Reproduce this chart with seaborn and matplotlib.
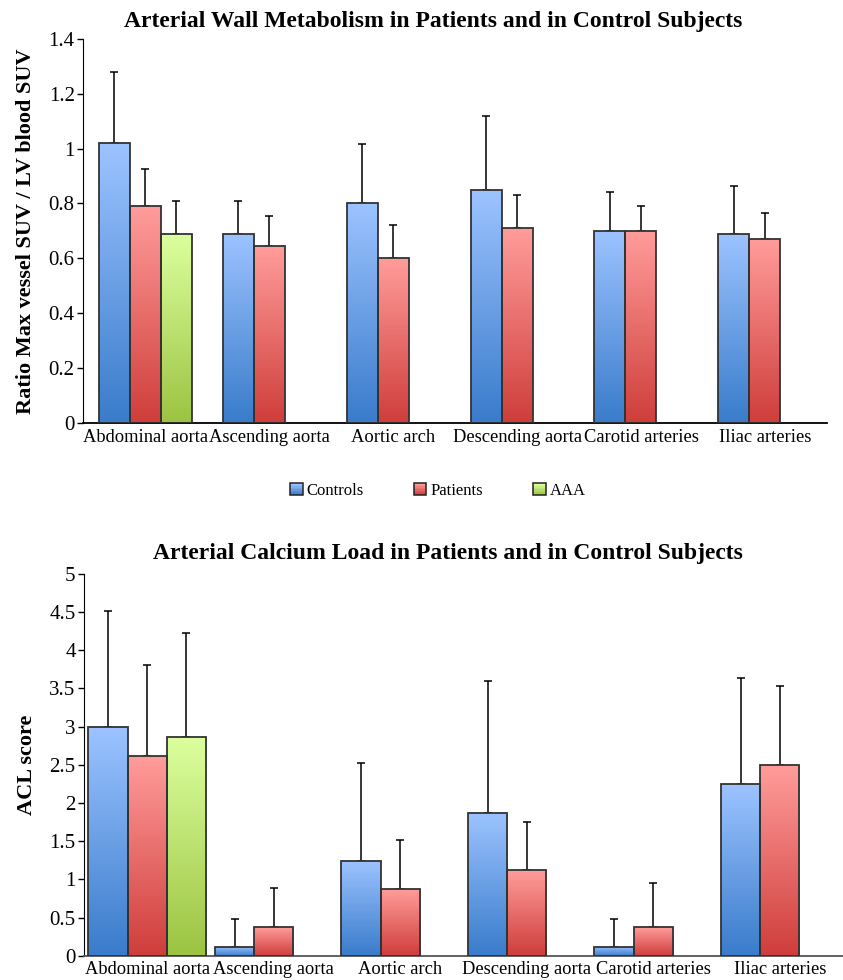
import numpy as np
import pandas as pd
import matplotlib
matplotlib.use('Agg')
import matplotlib.pyplot as plt
import seaborn as sns
from matplotlib.colors import LinearSegmentedColormap, to_rgb
from matplotlib.patches import Patch, Rectangle
from matplotlib.legend_handler import HandlerBase

# data
sites = ["Abdominal aorta", "Ascending aorta", "Aortic arch",
         "Descending aorta", "Carotid arteries", "Iliac arteries"]
groups = ["Controls", "Patients", "AAA"]

suv_controls = [1.02, 0.69, 0.80, 0.85, 0.70, 0.69]
suv_controls_sd = [0.26, 0.12, 0.215, 0.27, 0.14, 0.175]
suv_patients = [0.79, 0.645, 0.60, 0.71, 0.70, 0.67]
suv_patients_sd = [0.135, 0.11, 0.12, 0.12, 0.09, 0.095]
suv_aaa = [0.69]
suv_aaa_sd = [0.12]

acl_controls = [3.0, 0.12, 1.245, 1.875, 0.12, 2.245]
acl_controls_sd = [1.51, 0.355, 1.285, 1.725, 0.355, 1.395]
acl_patients = [2.62, 0.37, 0.87, 1.12, 0.37, 2.495]
acl_patients_sd = [1.19, 0.52, 0.64, 0.635, 0.585, 1.035]
acl_aaa = [2.87]
acl_aaa_sd = [1.36]

# gradient colours (top, bottom)
grad = {
    "Controls": ("#9cc3ff", "#3a7ccb"),
    "Patients": ("#ff9c9a", "#cf3e3b"),
    "AAA": ("#dcff9e", "#9cc442"),
}


class GradientHandler(HandlerBase):
    # legend square drawn as stacked strips, light on top
    def create_artists(self, legend, orig_handle, xdescent, ydescent,
                       width, height, fontsize, trans):
        top = np.array(to_rgb(grad[orig_handle.get_label()][0]))
        bot = np.array(to_rgb(grad[orig_handle.get_label()][1]))
        n = 8
        arts = []
        for k in range(n):
            c = bot + (top - bot) * k / (n - 1)
            arts.append(Rectangle((-xdescent, -ydescent + height * k / n), width,
                                  height / n, facecolor=c, edgecolor='none',
                                  transform=trans))
        arts.append(Rectangle((-xdescent, -ydescent), width, height,
                              facecolor='none', edgecolor='#222222', lw=1.1,
                              transform=trans))
        return arts


def make_df(c, c_sd, p, p_sd, a, a_sd):
    rows = []
    for i, s in enumerate(sites):
        rows.append((s, "Controls", c[i], c_sd[i]))
        rows.append((s, "Patients", p[i], p_sd[i]))
    for i, v in enumerate(a):
        rows.append((sites[i], "AAA", v, a_sd[i]))
    return pd.DataFrame(rows, columns=["site", "group", "value", "sd"])


def draw(ax, df, width, ymax, ystep, ylabel, xcolor):
    sns.barplot(data=df, x="site", y="value", hue="group", order=sites,
                hue_order=groups, width=width, errorbar=None, legend=False,
                palette={g: grad[g][0] for g in groups}, ax=ax)
    bw = width / len(groups)
    lookup = {(r.site, r.group): r.sd for r in df.itertuples()}
    for patch in list(ax.patches):
        x0, h, w = patch.get_x(), patch.get_height(), patch.get_width()
        if h <= 0:
            continue
        xc = x0 + w / 2
        cat = int(round(xc))
        gi = int(round((xc - cat) / bw + (len(groups) - 1) / 2))
        g = groups[gi]
        cmap = LinearSegmentedColormap.from_list(g, [grad[g][1], grad[g][0]])
        img = ax.imshow(np.linspace(0, 1, 100).reshape(-1, 1), cmap=cmap,
                        extent=(x0, x0 + w, 0, h), origin='lower',
                        aspect='auto', zorder=2)
        img.set_clip_path(patch)
        patch.set_facecolor('none')
        patch.set_edgecolor('#333333')
        patch.set_linewidth(1.3)
        patch.set_zorder(3)
        sd = lookup[(sites[cat], g)]
        ax.errorbar(xc, h, yerr=[[0], [sd]], fmt='none', ecolor='black',
                    elinewidth=1.1, capsize=3, capthick=1.1, zorder=1)
    ax.set_xlim(-0.5, len(sites) - 0.5)
    ax.set_ylim(0, ymax)
    ticks = np.arange(0, ymax + ystep / 2, ystep)
    ax.set_yticks(ticks)
    ax.set_yticklabels([f"{t:g}" for t in ticks])
    ax.set_xlabel("")
    ax.set_ylabel(ylabel, fontsize=16, fontweight='bold', labelpad=9)
    ax.tick_params(axis='y', length=4, width=1, labelsize=15, pad=2)
    ax.tick_params(axis='x', length=0, labelsize=13.3, pad=4)
    sns.despine(ax=ax)
    ax.spines['left'].set_color('black')
    ax.spines['bottom'].set_color(xcolor)
    ax.spines['bottom'].set_linewidth(1.3)


sns.set_style('ticks')
plt.rcParams['font.family'] = ['Liberation Serif', 'DejaVu Serif']
plt.rcParams['text.color'] = 'black'
plt.rcParams['axes.labelcolor'] = 'black'
plt.rcParams['xtick.color'] = 'black'
plt.rcParams['ytick.color'] = 'black'

fig = plt.figure(figsize=(8.43, 9.8), dpi=100)
ax1 = fig.add_axes([0.0985, 0.5684, 0.8825, 0.392])
ax2 = fig.add_axes([0.0996, 0.0248, 0.9004, 0.3895])

draw(ax1, make_df(suv_controls, suv_controls_sd, suv_patients, suv_patients_sd,
                  suv_aaa, suv_aaa_sd),
     0.75, 1.4, 0.2, "Ratio Max vessel SUV / LV blood SUV", 'black')
draw(ax2, make_df(acl_controls, acl_controls_sd, acl_patients, acl_patients_sd,
                  acl_aaa, acl_aaa_sd),
     0.93, 5, 0.5, "ACL score", '#555555')

fig.text(433 / 843, 1 - 21 / 980, "Arterial Wall Metabolism in Patients and in Control Subjects",
         ha='center', va='center', fontsize=17, fontweight='bold')
fig.text(448 / 843, 1 - 553 / 980, "Arterial Calcium Load in Patients and in Control Subjects",
         ha='center', va='center', fontsize=17, fontweight='bold')

handles = [Patch(label=g) for g in groups]
fig.legend(handles=handles, loc='center', bbox_to_anchor=(438 / 843, 1 - 491 / 980),
           ncol=3, frameon=False, fontsize=12, handlelength=0.75, handleheight=0.75,
           handletextpad=0.25, columnspacing=3.0,
           handler_map={Patch: GradientHandler()})

fig.savefig("out.png", dpi=100)
